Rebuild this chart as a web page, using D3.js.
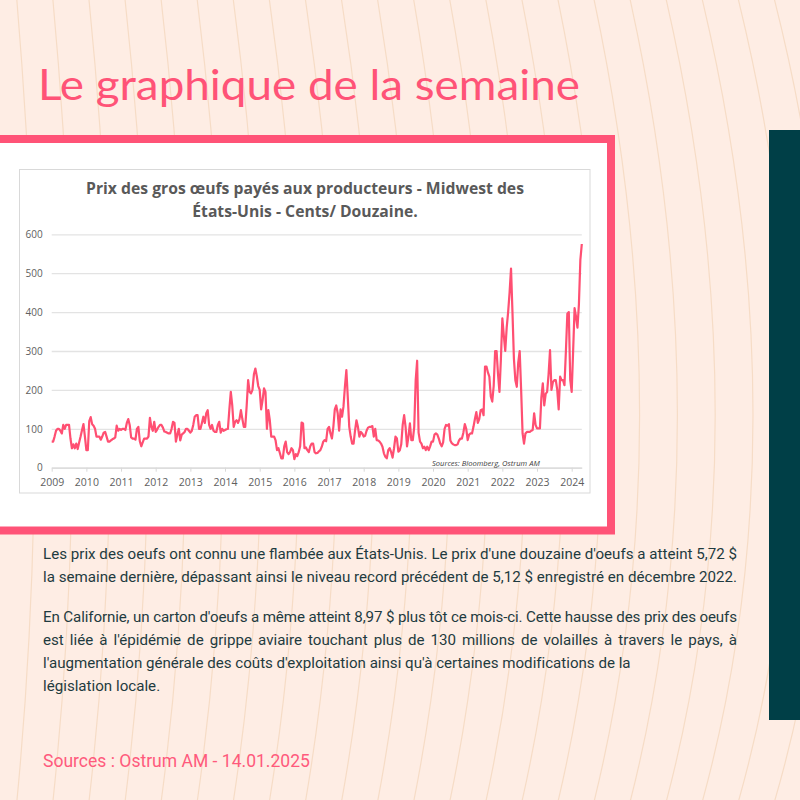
<!DOCTYPE html>
<html lang="fr">
<head>
<meta charset="UTF-8">
<title>Le graphique de la semaine</title>
<style>
  body { margin: 0; background: #feede4; }
  svg { display: block; }
</style>
<script src="https://d3js.org/d3.v7.min.js"></script>
</head>
<body>
<svg id="page" width="800" height="800"></svg>
<script>
// Prix des gros oeufs, Midwest (cents/douzaine), relevés toutes les demi-mois à partir de janvier 2009
const startYear = 2009;
const pointsPerYear = 24;
const prices = [
  // 2009
  67, 67, 80, 95, 100, 100, 95, 88, 110, 100, 110, 110, 110, 75, 50, 60, 50, 62, 48, 65, 80, 97, 112, 80,
  // 2010
  45, 45, 120, 130, 112, 108, 100, 80, 80, 80, 72, 80, 90, 92, 80, 67, 67, 70, 73, 75, 78, 108, 95, 100,
  // 2011
  97, 100, 100, 97, 115, 125, 110, 78, 75, 75, 72, 100, 105, 68, 55, 65, 75, 75, 75, 80, 128, 105, 95, 118,
  // 2012
  92, 98, 105, 110, 110, 103, 93, 92, 90, 88, 88, 100, 118, 115, 67, 85, 100, 70, 85, 88, 92, 100, 100, 95,
  // 2013
  90, 95, 110, 131, 135, 135, 100, 100, 115, 131, 115, 140, 148, 110, 100, 110, 95, 92, 92, 110, 118, 90, 100, 95,
  // 2014
  97, 99, 100, 150, 195, 160, 105, 118, 122, 115, 125, 148, 125, 105, 105, 160, 225, 195, 191, 200, 240, 255, 235, 210,
  // 2015
  200, 150, 174, 204, 195, 100, 148, 122, 80, 80, 80, 70, 45, 50, 37, 24, 24, 55, 67, 40, 35, 40, 50, 45,
  // 2016
  22, 35, 30, 40, 55, 116, 114, 50, 52, 45, 40, 55, 62, 62, 40, 37, 38, 42, 45, 54, 67, 71, 68, 100,
  // 2017
  105, 88, 75, 105, 150, 160, 140, 95, 150, 131, 157, 208, 251, 180, 105, 80, 62, 62, 95, 122, 105, 80, 92, 88,
  // 2018
  80, 82, 95, 103, 105, 105, 107, 80, 100, 71, 70, 67, 62, 54, 37, 28, 24, 45, 50, 40, 26, 50, 80, 75,
  // 2019
  41, 45, 60, 110, 135, 105, 55, 80, 114, 71, 71, 105, 225, 275, 90, 67, 62, 50, 54, 45, 54, 45, 55, 67,
  // 2020
  67, 85, 88, 85, 75, 62, 55, 65, 100, 110, 108, 112, 70, 63, 60, 58, 58, 60, 70, 75, 75, 90, 112, 100,
  // 2021
  71, 85, 88, 88, 105, 125, 143, 115, 125, 148, 150, 135, 260, 260, 245, 234, 183, 170, 210, 300, 300, 240, 195, 280,
  // 2022
  384, 340, 300, 360, 400, 450, 512, 400, 280, 225, 208, 270, 300, 200, 88, 62, 88, 92, 92, 92, 95, 97, 140, 110,
  // 2023
  101, 101, 101, 180, 217, 160, 190, 195, 240, 302, 200, 220, 225, 225, 200, 150, 234, 225, 225, 212, 300, 396, 400, 225,
  // 2024
  195, 300, 410, 388, 360, 420, 534, 575
];
const yearTicks = d3.range(2009, 2025);
const valueTicks = [0, 100, 200, 300, 400, 500, 600];
const chartTitle = ["Prix des gros œufs payés aux producteurs - Midwest des", "États-Unis - Cents/ Douzaine."];
const bodyLines = [
  "Les prix des oeufs ont connu une flambée aux États-Unis. Le prix d'une douzaine d'oeufs a atteint 5,72 $",
  "la semaine dernière, dépassant ainsi le niveau record précédent de 5,12 $ enregistré en décembre 2022.",
  "En Californie, un carton d'oeufs a même atteint 8,97 $ plus tôt ce mois-ci. Cette hausse des prix des oeufs",
  "est liée à l'épidémie de grippe aviaire touchant plus de 130 millions de volailles à travers le pays, à",
  "l'augmentation générale des coûts d'exploitation ainsi qu'à certaines modifications de la",
  "législation locale."
];

const svg = d3.select("#page");
const pink = "#ff5377";

// fond + lignes décoratives
svg.append("rect").attr("width", 800).attr("height", 800).attr("fill", "#feede4");
const deco = svg.append("g").attr("fill", "none").attr("stroke", "#f6dcc6").attr("stroke-width", 1.2);
for (let x0 = -20; x0 < 820; x0 += 36) {
  const h = 18 + x0 * 0.05;
  deco.append("path").attr("d", `M${x0},-10 Q${x0 + 2 * h},430 ${x0},810`);
}

// petit utilitaire : étire un texte horizontalement pour atteindre une largeur donnée
function fitWidth(sel, x, target) {
  const w = sel.node().getComputedTextLength();
  const sx = target / w;
  sel.attr("x", 0).attr("transform", `translate(${x},${sel.attr("y")}) scale(${sx},1)`).attr("y", 0);
}

// titre
const title = svg.append("text")
  .attr("y", 100)
  .attr("font-family", "Lato, sans-serif")
  .attr("font-size", 42)
  .attr("fill", pink)
  .text("Le graphique de la semaine");
fitWidth(title, 38, 542);

// bande bleu-vert à droite
svg.append("rect").attr("x", 769).attr("y", 130).attr("width", 31).attr("height", 590).attr("fill", "#003f47");

// cadre rose et zone blanche
svg.append("rect").attr("x", -10).attr("y", 139).attr("width", 621).attr("height", 391.5)
  .attr("fill", "#fff").attr("stroke", pink).attr("stroke-width", 8);

// boîte du graphique
svg.append("rect").attr("x", 19.5).attr("y", 169.5).attr("width", 570.5).attr("height", 323.5)
  .attr("fill", "#fff").attr("stroke", "#d9d9d9").attr("stroke-width", 1);

const titleLines = chartTitle.map(function (line, i) {
  return svg.append("text")
    .attr("x", 305).attr("y", 194 + i * 23)
    .attr("text-anchor", "middle")
    .attr("font-family", "'Open Sans', sans-serif")
    .attr("font-weight", 700)
    .attr("font-size", 15.5)
    .attr("fill", "#595959")
    .text(line);
});
const titleScale = 438 / titleLines[0].node().getComputedTextLength();
titleLines.forEach(function (t, i) {
  const ty = 194 + i * 23;
  t.attr("transform", `translate(305,${ty}) scale(${titleScale},1) translate(-305,${-ty})`);
});

// échelles
const x = d3.scaleLinear()
  .domain([startYear, startYear + (prices.length - 1) / pointsPerYear])
  .range([51.7, 581.8]);
const y = d3.scaleLinear().domain([0, 600]).range([467.7, 234.3]);

const plot = svg.append("g");

const yAxis = plot.append("g")
  .attr("transform", `translate(${x.range()[0]},0)`)
  .call(d3.axisLeft(y).tickValues(valueTicks).tickSize(-(x.range()[1] - x.range()[0])).tickPadding(9));
yAxis.select(".domain").remove();
yAxis.selectAll(".tick line").attr("stroke", "#e3e3e3").attr("stroke-width", 1.3);
yAxis.selectAll(".tick text")
  .attr("font-family", "'Open Sans', sans-serif").attr("font-size", 10).attr("fill", "#606060");

const xAxis = plot.append("g")
  .attr("transform", `translate(0,${y(0)})`)
  .call(d3.axisBottom(x).tickValues(yearTicks).tickFormat(d3.format("d")).tickSize(4).tickPadding(7).tickSizeOuter(0));
xAxis.select(".domain").attr("stroke", "#d9d9d9").attr("stroke-width", 1.3);
xAxis.selectAll(".tick line").attr("stroke", "#d9d9d9");
xAxis.selectAll(".tick text")
  .attr("font-family", "'Open Sans', sans-serif").attr("font-size", 10.5).attr("fill", "#606060");

const series = prices.map((v, i) => [startYear + i / pointsPerYear, v]);
plot.append("path")
  .datum(series)
  .attr("fill", "none")
  .attr("stroke", "#ff4f72")
  .attr("stroke-width", 2.2)
  .attr("stroke-linejoin", "round")
  .attr("d", d3.line().x(d => x(d[0])).y(d => y(d[1])));

const src = plot.append("text")
  .attr("y", 466)
  .attr("font-family", "'Open Sans', sans-serif")
  .attr("font-style", "italic")
  .attr("font-size", 7.5)
  .attr("fill", "#404040")
  .text("Sources: Bloomberg, Ostrum AM");
fitWidth(src, 432, 108);

// texte explicatif : police resserrée, lignes justifiées comme dans l'original
const bodyY = [559, 582, 622, 645, 668, 691];
const bodyWidth = [694, 694, 694, 694, 587, null];
const bodyText = bodyLines.map(function (line, i) {
  return svg.append("text")
    .attr("font-family", "Roboto, sans-serif")
    .attr("font-size", 15.5)
    .attr("fill", "#1f3b40")
    .text(line);
});
const squeeze = 694 / bodyText[0].node().getComputedTextLength();
bodyText.forEach(function (t, i) {
  t.attr("transform", `translate(43,${bodyY[i]}) scale(${squeeze},1)`);
  if (!bodyWidth[i]) return;
  const line = bodyLines[i];
  const extra = bodyWidth[i] / squeeze - t.node().getComputedTextLength();
  if (extra >= 0) {
    t.attr("word-spacing", extra / (line.split(" ").length - 1));
  } else {
    t.attr("letter-spacing", extra / (line.length - 1));
  }
});

// source en bas
const foot = svg.append("text")
  .attr("y", 767)
  .attr("font-family", "Roboto, sans-serif")
  .attr("font-size", 18)
  .attr("fill", "#ff5a7c")
  .text("Sources : Ostrum AM - 14.01.2025");
fitWidth(foot, 43, 267);
</script>
</body>
</html>
